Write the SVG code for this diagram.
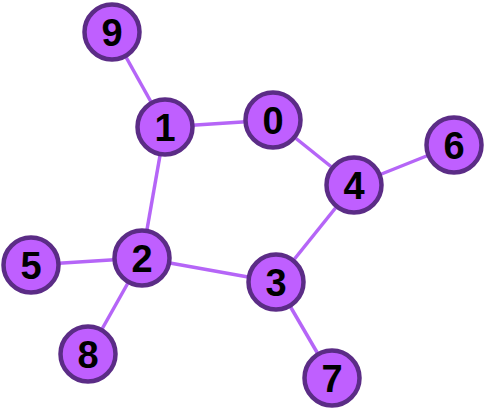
<svg xmlns="http://www.w3.org/2000/svg" width="486" height="410" viewBox="0 0 486 410">
<style>
.e{stroke:#b565f7;stroke-width:3.5;fill:none}
.n circle{fill:#bf5fff;stroke:#5b2c86;stroke-width:4.5}
.n text{font-family:"Liberation Sans",Arial,sans-serif;font-weight:bold;font-size:38px;fill:#000;text-anchor:middle;dominant-baseline:central}
</style>
<rect width="486" height="410" fill="#fff"/>
<g id="edges">
<line class="e" x1="112" y1="32" x2="165" y2="127"/>
<line class="e" x1="165" y1="127" x2="273" y2="120"/>
<line class="e" x1="273" y1="120" x2="354" y2="185"/>
<line class="e" x1="354" y1="185" x2="454" y2="145"/>
<line class="e" x1="354" y1="185" x2="276" y2="282"/>
<line class="e" x1="165" y1="127" x2="142" y2="258"/>
<line class="e" x1="142" y1="258" x2="31" y2="265"/>
<line class="e" x1="142" y1="258" x2="88" y2="354"/>
<line class="e" x1="142" y1="258" x2="276" y2="282"/>
<line class="e" x1="276" y1="282" x2="332" y2="378"/>
</g>
<g id="node9" class="n"><circle cx="112" cy="32" r="27.5"/><text x="112" y="33">9</text></g>
<g id="node1" class="n"><circle cx="165" cy="127" r="27.5"/><text x="165" y="128">1</text></g>
<g id="node0" class="n"><circle cx="273" cy="120" r="27.5"/><text x="273" y="121">0</text></g>
<g id="node4" class="n"><circle cx="354" cy="185" r="27.5"/><text x="354" y="186">4</text></g>
<g id="node6" class="n"><circle cx="454" cy="145" r="27.5"/><text x="454" y="146">6</text></g>
<g id="node2" class="n"><circle cx="142" cy="258" r="27.5"/><text x="142" y="259">2</text></g>
<g id="node5" class="n"><circle cx="31" cy="265" r="27.5"/><text x="31" y="266">5</text></g>
<g id="node8" class="n"><circle cx="88" cy="354" r="27.5"/><text x="88" y="355">8</text></g>
<g id="node3" class="n"><circle cx="276" cy="282" r="27.5"/><text x="276" y="283">3</text></g>
<g id="node7" class="n"><circle cx="332" cy="378" r="27.5"/><text x="332" y="379">7</text></g>
</svg>
